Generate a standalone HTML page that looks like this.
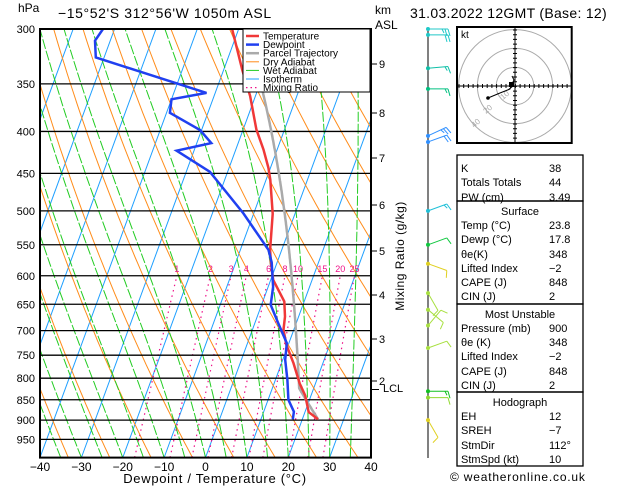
<!DOCTYPE html>
<html><head><meta charset="utf-8"><style>
html,body{margin:0;padding:0;background:#fff;}
svg{display:block;font-family:"Liberation Sans",sans-serif;}
</style></head><body>
<svg id="chart" width="629" height="486" viewBox="0 0 629 486" xmlns="http://www.w3.org/2000/svg">
<defs><clipPath id="plotclip"><rect x="40" y="29" width="331" height="428.6"/></clipPath>
<clipPath id="hodoclip"><rect x="457" y="27" width="114.7" height="116"/></clipPath></defs>
<rect x="0" y="0" width="629" height="486" fill="#fff"/>
<g id="bg" clip-path="url(#plotclip)"></g>
<g id="profiles" clip-path="url(#plotclip)"></g>
<g id="overlay"></g>
</svg>
<script>
// ---- data ----
const tempPressures = [300,336.6,362,398,421,443,458,504,558,578,607,645,673,698,728,767,812,840,880,898];
const tempValues    = [-31.6,-25.5,-21.3,-16.8,-13.3,-10.5,-9,-5.4,-2.8,-1.5,0.6,5.2,6.7,7.5,9.5,12.9,16.2,18.6,20.9,23.8];
const dewPressures  = [300,310,325,359,365.5,379.6,398.4,413.4,422.3,448,503.6,558,578,619,651,686,725,760,804,850,879,898];
const dewValues     = [-62.8,-63.7,-62,-32.1,-40,-39.2,-30.4,-26.5,-34.2,-24.3,-12.5,-3.2,-1.3,1.2,2.2,5.7,9.5,10.6,12.9,14.9,17.3,17.7];
const pressureTicks = [300,350,400,450,500,550,600,650,700,750,800,850,900,950];
const tempTicks     = [-40,-30,-20,-10,0,10,20,30,40];
const mixingRatios  = [1,2,3,4,6,8,10,15,20,25];
const mixingLabels  = ["1","2","3","4","6","8","10","15","20","25"];
const kmTicks       = [9,8,7,6,5,4,3,2];
const kmTickY       = [64,113,158,205,251,295,339,381];
const windPressures = [300,305,335,355,405,412,500,550,580,630,660,690,735,830,845,900];
const windDirs      = [90,90,85,90,65,70,70,70,110,150,130,40,70,90,90,150];
const windSpeeds    = [25,20,15,15,25,20,15,10,10,10,10,10,10,15,10,10];
const windColors    = ["#20c8c8","#20c8c8","#10c0a8","#00c080","#3090ff","#3090ff","#20c0d8","#10c840","#e0d020","#a8e040","#a8e040","#a8e040","#a8e040","#10c020","#90d830","#e0d020"];
const surfP = 898, surfT = 23.8, surfTd = 17.8;

const NS="http://www.w3.org/2000/svg";
function Y(p){return 29+356*Math.log(p/300);}
function X(T,p){return 40+(T+40)*4.1375+0.367*(457.6-Y(p));}
function mk(tag,parent,attrs){const e=document.createElementNS(NS,tag);for(const k in attrs)e.setAttribute(k,attrs[k]);parent.appendChild(e);return e;}
function es(T){return 6.112*Math.exp(17.67*T/(T+243.5));}
function moistStep(T,p,dp){const Tk=T+273.15;const e=es(T);const rs=0.622*e/(p-e);const Lv=2.5e6,Rd=287,cp=1005;
 const dTdp=(Rd*Tk+Lv*rs)/(p*(cp+Lv*Lv*rs*0.622/(Rd*Tk*Tk)));return T+dTdp*dp;}
function pathFrom(pts){return pts.map((q,i)=>(i?'L':'M')+q[0].toFixed(1)+','+q[1].toFixed(1)).join(' ');}

const bg=document.getElementById('bg'), prof=document.getElementById('profiles'), ov=document.getElementById('overlay');

// isotherms
for(let T=-140;T<=40;T+=10){
 const l=mk('line',bg,{x1:X(T,1000),y1:Y(1000),x2:X(T,300),y2:Y(300),stroke:'#1e9fff','stroke-width':1});
 
 
}
// dry adiabats
for(let th=200;th<=500;th+=10){
 const pts=[];for(let p=1000;p>=300;p-=10){const T=th*Math.pow(p/1000,0.286)-273.15;pts.push([X(T,p),Y(p)]);}
 const l=mk('path',bg,{d:pathFrom(pts),fill:'none',stroke:'#ff8c1a','stroke-width':1});
 
 
}
// wet adiabats
for(let T0=-40;T0<=40;T0+=5){
 const pts=[];let T=T0;for(let p=1000;p>=300;p-=2){if(p%10===0)pts.push([X(T,p),Y(p)]);T=moistStep(T,p,-2);}
 const l=mk('path',bg,{d:pathFrom(pts),fill:'none',stroke:'#22cc22','stroke-width':1,'stroke-dasharray':'10 2'});
 
 
}
// mixing ratio
mixingRatios.forEach((w,i)=>{
 const pts=[];for(let p=1000;p>=600;p-=10){const e=w*p/(622+w);const a=Math.log(e/6.112);const Td=243.5*a/(17.67-a);pts.push([X(Td,p),Y(p)]);}
 const l=mk('path',bg,{d:pathFrom(pts),fill:'none',stroke:'#ee1188','stroke-width':1.2,'stroke-dasharray':'1.5 4'});
 
 
 const t=mk('text',ov,{x:pts[pts.length-1][0],y:272,'font-size':9,fill:'#ee1188','text-anchor':'middle'});
 t.textContent=mixingLabels[i];
 
 
});
// pressure lines + labels
pressureTicks.forEach(p=>{
 const l=mk('line',bg,{x1:40,x2:371,y1:Y(p),y2:Y(p),stroke:'#000','stroke-width':1.3});
 
 
 const t=mk('text',ov,{x:35,y:Y(p)+4,'font-size':11,'text-anchor':'end',fill:'#000'});
 t.textContent=p;
 
 
});
tempTicks.forEach(T=>{
 const t=mk('text',ov,{x:X(T,1000),y:471,'font-size':12,'text-anchor':'middle',fill:'#000'});
 t.textContent=T<0?'\u2212'+(-T):T;
 
 
});
// parcel
(function(){
 const Tl=surfTd-(0.001296*surfTd+0.1963)*(surfT-surfTd);
 const pl=surfP*Math.pow((Tl+273.15)/(surfT+273.15),3.5);
 const th=(surfT+273.15)*Math.pow(1000/surfP,0.286);
 const pts=[];for(let p=surfP;p>pl;p-=5){pts.push([X(th*Math.pow(p/1000,0.286)-273.15,p),Y(p)]);}
 let T=Tl;for(let p=pl;p>=300;p-=2){pts.push([X(T,p),Y(p)]);T=moistStep(T,p,-2);}
 const l=mk('path',prof,{d:pathFrom(pts),fill:'none',stroke:'#aaa','stroke-width':2.5});
 
 
})();
// temperature and dewpoint
const tl=mk('path',prof,{d:pathFrom(tempPressures.map((p,i)=>[X(tempValues[i],p),Y(p)])),fill:'none',stroke:'#f03838','stroke-width':2.5});


const dl=mk('path',prof,{d:pathFrom(dewPressures.map((p,i)=>[X(dewValues[i],p),Y(p)])),fill:'none',stroke:'#2040f0','stroke-width':2.5});



// border
const br=mk('rect',ov,{x:40,y:29,width:331,height:428.6,fill:'none',stroke:'#000','stroke-width':2});



// km ticks
kmTicks.forEach((k,i)=>{
 const l=mk('line',ov,{x1:371,x2:377,y1:kmTickY[i],y2:kmTickY[i],stroke:'#000','stroke-width':1});
 
 
 const t=mk('text',ov,{x:379,y:kmTickY[i]+4,'font-size':11,fill:'#000'});
 t.textContent=k;
 
 
});

// winds
const wl=mk('line',ov,{x1:428,x2:428,y1:29,y2:458,stroke:'#000','stroke-width':1});


windPressures.forEach((p,i)=>{
 const y0=Y(p),x0=428,L=20,a=windDirs[i]*Math.PI/180;
 const ux=Math.sin(a),uy=-Math.cos(a);
 const x1=x0+ux*L,y1=y0+uy*L;
 const g=mk('g',ov,{stroke:windColors[i],'stroke-width':1,fill:'none'});
 
 
 mk('line',g,{x1:x0,y1:y0,x2:x1,y2:y1});
 mk('circle',g,{cx:x0,cy:y0,r:1.5,fill:windColors[i]});
 let s=windSpeeds[i],k=0;
 const px=-uy,py=ux; // perpendicular
 while(s>=5){const full=s>=10;const len=full?7:4;
  const bx=x1-ux*k*3,by=y1-uy*k*3;
  mk('line',g,{x1:bx,y1:by,x2:bx+(px*len+ux*2)*(full?1:1),y2:by+(py*len+uy*2)});
  s-=full?10:5;k++;}
});

// legend
const lg=mk('g',ov,{});


mk('rect',lg,{x:243,y:29,width:127,height:63,fill:'#fff',stroke:'#000','stroke-width':1});
const legNames=["Temperature","Dewpoint","Parcel Trajectory","Dry Adiabat","Wet Adiabat","Isotherm","Mixing Ratio"];
const legCols=["#f03838","#2040f0","#aaa","#ff8c1a","#22cc22","#1e9fff","#ee1188"];
const legW=[2.5,2.5,2.5,1,1,1,1.2];
legNames.forEach((n,i)=>{
 const y=36+i*8.6;
 const ln=mk('line',lg,{x1:246,x2:259,y1:y,y2:y,stroke:legCols[i],'stroke-width':legW[i]});
 if(i===6)ln.setAttribute('stroke-dasharray','1.5 3');
 const t=mk('text',lg,{x:263,y:y+3.5,'font-size':10,fill:'#000'});
 t.textContent=n;
 
 
});

// hodograph
const hg=mk('g',ov,{});


const hc=mk('g',hg,{'clip-path':'url(#hodoclip)'});
const cx=515,cy=86;
[18.8,37.6,56.4].forEach(r=>mk('circle',hc,{cx:cx,cy:cy,r:r,fill:'none',stroke:'#aaa','stroke-width':1}));
mk('line',hc,{x1:457,x2:572,y1:cy,y2:cy,stroke:'#000','stroke-width':1});
mk('line',hc,{x1:cx,x2:cx,y1:27,y2:143,stroke:'#000','stroke-width':1});
for(let d=-56;d<=56;d+=4.7){mk('line',hc,{x1:cx+d,x2:cx+d,y1:cy-2,y2:cy+2,stroke:'#000'});mk('line',hc,{x1:cx-2,x2:cx+2,y1:cy+d,y2:cy+d,stroke:'#000'});}
[["10",503,100],["20",486,114],["40",474,128]].forEach(q=>{const t=mk('text',hc,{x:q[1],y:q[2],'font-size':8,fill:'#aaa',transform:'rotate(-40 '+q[1]+' '+q[2]+')'});t.textContent=q[0];});
mk('path',hc,{d:'M488,98 L500,93 L510,89 L512,84 L514,80 L512,76 M508,90 L513,86 L519,86',fill:'none',stroke:'#000','stroke-width':1});
mk('circle',hc,{cx:488,cy:98,r:1.8,fill:'#000'});
mk('rect',hc,{x:509,y:82,width:5,height:5,fill:'#000'});
mk('rect',hg,{x:457,y:27,width:114.7,height:116,fill:'none',stroke:'#000','stroke-width':2});
const kt=mk('text',hg,{x:461,y:38,'font-size':10,fill:'#000'});kt.textContent='kt';

// stats table
const rows=[
 ["box",155,201],["K","38",168],["Totals Totals","44",182],["PW (cm)","3.49",197],
 ["box",201,304],["title","Surface",211],["Temp (\u00b0C)","23.8",225],["Dewp (\u00b0C)","17.8",239],["\u03b8e(K)","348",254],["Lifted Index","\u22122",268],["CAPE (J)","848",282],["CIN (J)","2",296],
 ["box",304,392],["title","Most Unstable",314],["Pressure (mb)","900",328],["\u03b8e (K)","348",342],["Lifted Index","\u22122",356],["CAPE (J)","848",371],["CIN (J)","2",385],
 ["box",392,466],["title","Hodograph",402],["EH","12",416],["SREH","\u22127",430],["StmDir","112\u00b0",445],["StmSpd (kt)","10",459]];
const tg=mk('g',ov,{'font-size':11,fill:'#000'});


rows.forEach(r=>{
 if(r[0]==='box'){mk('rect',tg,{x:457,y:r[1],width:126,height:r[2]-r[1],fill:'none',stroke:'#000','stroke-width':1.3});return;}
 if(r[0]==='title'){const t=mk('text',tg,{x:520,y:r[2]+4,'text-anchor':'middle'});t.textContent=r[1];
  
  return;}
 const a=mk('text',tg,{x:461,y:r[2]+4});a.textContent=r[0];
 
 
 const b=mk('text',tg,{x:549,y:r[2]+4});b.textContent=r[1];
 
 
});
</script>
<div style="position:absolute;left:0;top:0;width:629px;height:486px;pointer-events:none;font-family:'Liberation Sans',sans-serif;color:#000;">
 <div style="position:absolute;left:18px;top:1px;font-size:12px;">hPa</div>
 <div style="position:absolute;left:58px;top:5px;font-size:14px;letter-spacing:0.6px;">&minus;15°52'S 312°56'W 1050m ASL</div>
 <div style="position:absolute;left:375px;top:3px;font-size:12px;line-height:15px;">km<br>ASL</div>
 <div style="position:absolute;left:410px;top:5px;font-size:14px;letter-spacing:0.3px;">31.03.2022 12GMT (Base: 12)</div>
 <div style="position:absolute;left:383px;top:383px;font-size:11px;">LCL</div>
 <div style="position:absolute;left:371px;top:389px;width:8px;height:1px;background:#000;"></div>
 <div style="position:absolute;left:330px;top:249px;width:140px;text-align:center;font-size:12px;transform:rotate(-90deg);letter-spacing:0.5px;">Mixing Ratio (g/kg)</div>
 <div style="position:absolute;left:95px;top:471px;width:240px;text-align:center;font-size:13px;letter-spacing:0.7px;">Dewpoint / Temperature (°C)</div>
 <div style="position:absolute;left:450px;top:470px;font-size:12px;letter-spacing:0.8px;">© weatheronline.co.uk</div>
</div>
</body></html>
